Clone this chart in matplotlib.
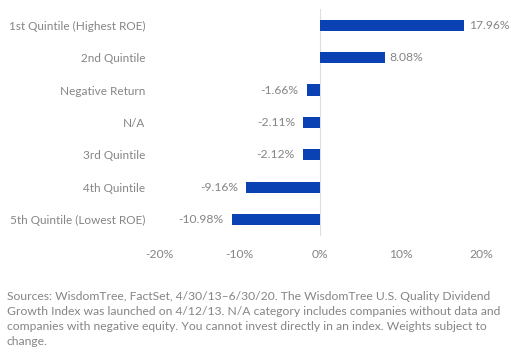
import matplotlib
matplotlib.use("Agg")
import matplotlib.pyplot as plt

categories = ["1st Quintile (Highest ROE)", "2nd Quintile", "Negative Return", "N/A",
              "3rd Quintile", "4th Quintile", "5th Quintile (Lowest ROE)"]
values = [17.96, 8.08, -1.66, -2.11, -2.12, -9.16, -10.98]
xticks = [-20, -10, 0, 10, 20]

note = ("Sources: WisdomTree, FactSet, 4/30/13\u20136/30/20. The WisdomTree U.S. Quality Dividend\n"
        "Growth Index was launched on 4/12/13. N/A category includes companies without data and\n"
        "companies with negative equity. You cannot invest directly in an index. Weights subject to\n"
        "change.")

grey = "#858585"
blue = "#0a42b4"
plt.rcParams['font.family'] = ['Lato', 'DejaVu Sans']

fig = plt.figure(figsize=(5.29, 3.54), dpi=100)
ax = fig.add_axes([0.3006, 0.333, 0.6084, 0.642])

ypos = list(range(len(categories)))[::-1]
ax.barh(ypos, values, height=0.34, color=blue, zorder=3)
ax.axvline(0, color="#dedede", lw=0.8, zorder=1)

for y, v in zip(ypos, values):
    if v >= 0:
        ax.text(v + 0.6, y, f"{v:.2f}%", va="center", ha="left", fontsize=8.7, color=grey)
    else:
        ax.text(v - 1.0, y, f"{v:.2f}%", va="center", ha="right", fontsize=8.7, color=grey)

ax.set_xlim(-20, 20)
ax.set_ylim(-0.5, len(categories) - 0.5)
ax.set_xticks(xticks)
ax.set_xticklabels([f"{t}%" for t in xticks], fontsize=8.7, color=grey)
ax.set_yticks(ypos)
ax.set_yticklabels(categories, fontsize=8.5, color=grey)
ax.tick_params(length=0)
ax.tick_params(axis="y", pad=10)
ax.tick_params(axis="x", pad=9)
for s in ax.spines.values():
    s.set_visible(False)

fig.text(0.013, 0.178, note, fontsize=8.7, color=grey, va="top", ha="left", linespacing=1.45)

fig.savefig("out.png", dpi=100)
